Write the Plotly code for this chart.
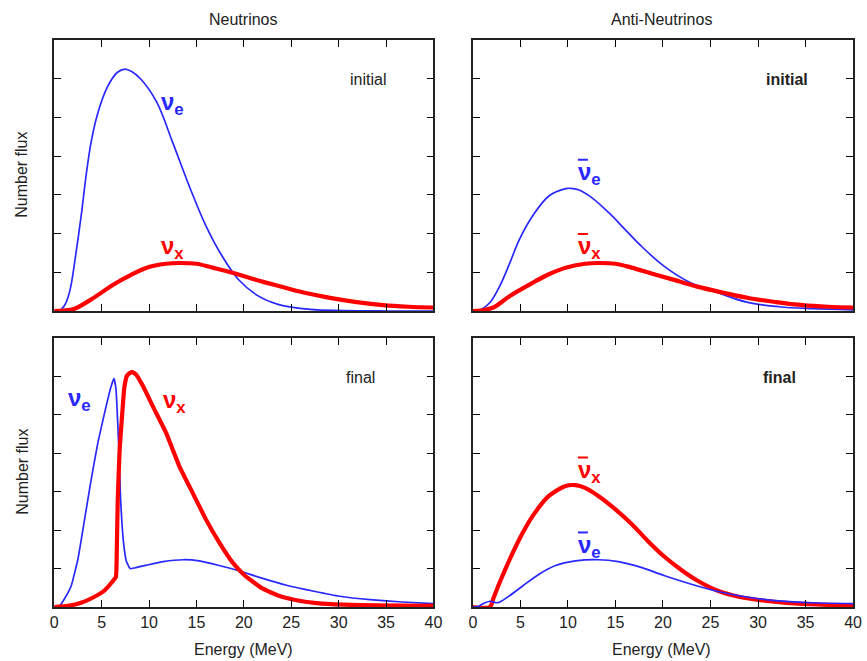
import plotly.graph_objects as go

# ---------------- data ----------------
# Top-left: neutrinos, initial
E_nue_init = [0, 0.5, 0.76, 1.1, 1.45, 1.8, 2.15, 2.84, 3.36, 3.88, 4.57, 5.6, 6.64, 7.45,
              8.2, 9.1, 10.8, 12.5, 14.3, 16.0, 17.7, 19.4, 21.5, 23.6, 27.0, 30.5, 35, 40]
F_nue_init = [0, 0, 0.05, 0.15, 0.35, 0.7, 1.25, 2.46, 3.5, 4.35, 5.09, 5.78, 6.16, 6.25,
              6.18, 6.0, 5.4, 4.35, 3.19, 2.2, 1.42, 0.82, 0.39, 0.17, 0.04, 0.01, 0, 0]

E_nux_init = [0, 1.0, 2.15, 3.9, 6.3, 8.0, 9.76, 11.8, 13.2, 15.0, 16.7, 18.8, 20.8, 23.6,
              26.4, 29.1, 31.9, 34.7, 37.4, 40]
F_nux_init = [0, 0.01, 0.06, 0.3, 0.69, 0.92, 1.12, 1.22, 1.24, 1.22, 1.12, 0.99, 0.84, 0.65,
              0.47, 0.34, 0.23, 0.15, 0.11, 0.09]

# Top-right: anti-neutrinos, initial
E_anue_init = [0, 0.5, 0.76, 1.8, 2.84, 3.9, 4.9, 6.3, 8.0, 9.76, 10.3, 11.1, 12.5, 14.3, 16.0,
               17.7, 20.1, 22.9, 25.7, 28.8, 32.2, 35.7, 40]
F_anue_init = [0, 0, 0.02, 0.22, 0.65, 1.25, 1.85, 2.46, 2.97, 3.16, 3.17, 3.13, 2.93, 2.54, 2.11,
               1.68, 1.16, 0.73, 0.48, 0.23, 0.11, 0.06, 0.03]

E_anux_init = [0, 1.0, 2.15, 3.9, 6.3, 8.0, 9.76, 11.8, 13.2, 15.0, 16.7, 18.8, 20.8, 23.6,
               26.4, 29.1, 31.9, 34.7, 37.4, 40]
F_anux_init = [0, 0.02, 0.09, 0.39, 0.73, 0.95, 1.12, 1.22, 1.24, 1.22, 1.12, 0.97, 0.83, 0.63,
               0.47, 0.33, 0.23, 0.15, 0.11, 0.09]

# Bottom-left: neutrinos, final
E_nue_fin = [0, 0.6, 1.1, 1.8, 2.5, 3.2, 3.9, 4.6, 5.3, 5.95, 6.3, 6.5, 6.8, 7.0, 7.3, 7.6,
             8.0, 8.5, 9.76, 11.5, 13.6, 15.3, 17.4, 19.4, 21.9, 24.6, 27.4, 30.1, 33.3,
             36.7, 40]
F_nue_fin = [0, 0.04, 0.22, 0.56, 1.25, 2.28, 3.32, 4.27, 5.04, 5.7, 5.95, 5.7, 4.2, 2.8,
             1.7, 1.2, 1.0, 1.02, 1.09, 1.18, 1.23, 1.2, 1.08, 0.95, 0.75, 0.56, 0.41,
             0.28, 0.19, 0.13, 0.09]

E_nux_fin = [0, 1.45, 2.84, 4.2, 5.3, 6.1, 6.5, 6.6, 6.7, 6.9, 7.2, 7.4, 7.7, 8.2, 8.7, 9.4,
             10.4, 11.8, 13.2, 14.6, 16.0, 17.4, 18.8, 20.1, 21.9, 23.6, 25.7, 27.7, 30.5, 34,
             40]
F_nux_fin = [0, 0.03, 0.11, 0.26, 0.43, 0.65, 0.78, 1.5, 2.8, 4.1, 5.13, 5.73, 6.03, 6.12, 6.03,
             5.73, 5.22, 4.53, 3.66, 2.97, 2.28, 1.68, 1.16, 0.82, 0.49, 0.3, 0.17, 0.1, 0.06,
             0.04, 0.03]

# Bottom-right: anti-neutrinos, final
E_anux_fin = [0, 1.8, 2.15, 2.84, 3.9, 4.9, 6.3, 8.0, 9.76, 10.8, 11.8, 13.2, 15.0, 16.7, 18.4,
              20.1, 21.9, 23.6, 25.7, 28.1, 30.5, 33.3, 36.7, 40]
F_anux_fin = [0, 0, 0.22, 0.65, 1.25, 1.77, 2.37, 2.89, 3.15, 3.17, 3.1, 2.89, 2.54, 2.16, 1.72,
              1.32, 0.97, 0.69, 0.43, 0.26, 0.17, 0.1, 0.06, 0.04]

E_anue_fin = [0, 0.6, 1.1, 1.8, 2.5, 2.84, 3.9, 5.3, 7.0, 8.7, 10.8, 13.2, 15.3, 17.7, 20.1,
              22.9, 25.7, 28.8, 32.2, 35.7, 40]
F_anue_fin = [0, 0.02, 0.09, 0.15, 0.11, 0.13, 0.3, 0.56, 0.86, 1.08, 1.2, 1.23, 1.18, 1.03,
              0.82, 0.6, 0.41, 0.26, 0.16, 0.11, 0.09]

x_ticks = [0, 5, 10, 15, 20, 25, 30, 35, 40]
col_titles = ["Neutrinos", "Anti-Neutrinos"]

# ---------------- styling ----------------
BLUE = "rgb(40,40,255)"
RED = "rgb(255,0,0)"
FONT = "Liberation Sans, Arial, Helvetica, sans-serif"
TXT = "#222"

fig = go.Figure()

panels = [
    ("x", "y", [(E_nue_init, F_nue_init, BLUE, 1.7, 1.0), (E_nux_init, F_nux_init, RED, 4.2, 1.0)]),
    ("x2", "y2", [(E_anue_init, F_anue_init, BLUE, 1.7, 1.0), (E_anux_init, F_anux_init, RED, 4.2, 1.0)]),
    ("x3", "y3", [(E_nue_fin, F_nue_fin, BLUE, 1.7, 0.4), (E_nux_fin, F_nux_fin, RED, 4.2, 0.4)]),
    ("x4", "y4", [(E_anux_fin, F_anux_fin, RED, 4.2, 0.8), (E_anue_fin, F_anue_fin, BLUE, 1.7, 0.8)]),
]
for xa, ya, series in panels:
    for xs, ys, c, w, sm in series:
        fig.add_trace(go.Scatter(x=xs, y=ys, mode="lines", xaxis=xa, yaxis=ya,
                                 line=dict(color=c, width=w, shape="spline", smoothing=sm),
                                 showlegend=False, hoverinfo="skip"))

xdom_l = [51 / 867, 436 / 867]
xdom_r = [476 / 867, 862 / 867]
ydom_t = [350 / 661, 621 / 661]
ydom_b = [54 / 661, 323 / 661]

def xaxis(dom, anchor, labels):
    return dict(domain=dom, anchor=anchor, range=[0, 40], tickvals=x_ticks,
                showticklabels=labels, ticks="inside", ticklen=7, tickwidth=1.3,
                tickcolor="black", showline=True, linecolor="#222", linewidth=1.5,
                mirror="ticks", showgrid=False, zeroline=False,
                tickfont=dict(family=FONT, size=16, color=TXT))

def yaxis(dom, anchor):
    return dict(domain=dom, anchor=anchor, range=[0, 7], dtick=1,
                showticklabels=False, ticks="inside", ticklen=7, tickwidth=1.3,
                tickcolor="black", showline=True, linecolor="#222", linewidth=1.5,
                mirror="ticks", showgrid=False, zeroline=False)

fig.update_layout(
    width=867, height=661, margin=dict(l=0, r=0, t=0, b=0),
    paper_bgcolor="white", plot_bgcolor="white",
    xaxis=xaxis(xdom_l, "y", False), yaxis=yaxis(ydom_t, "x"),
    xaxis2=xaxis(xdom_r, "y2", False), yaxis2=yaxis(ydom_t, "x2"),
    xaxis3=xaxis(xdom_l, "y3", True), yaxis3=yaxis(ydom_b, "x3"),
    xaxis4=xaxis(xdom_r, "y4", True), yaxis4=yaxis(ydom_b, "x4"),
    font=dict(family=FONT, color=TXT),
)

ann = []
shapes = []
def nu_label(xr, yr, x, y, sub, color, bar=False):
    ann.append(dict(xref=xr, yref=yr, x=x, y=y,
                    text="<b>\u03bd<sub>" + sub + "</sub></b>", showarrow=False,
                    font=dict(family=FONT, size=24, color=color),
                    xanchor="left", yanchor="middle"))
    if bar:
        # overbar of the anti-neutrino symbol, placed relative to the label
        shapes.append(dict(type="line", xref=xr, yref=yr,
                           x0=x + 0.25, x1=x + 1.3, y0=y + 0.36, y1=y + 0.36,
                           line=dict(color=color, width=2)))

def word(xr, yr, x, y, text):
    ann.append(dict(xref=xr, yref=yr, x=x, y=y, text=text, showarrow=False,
                    font=dict(family=FONT, size=16, color=TXT),
                    xanchor="center", yanchor="middle"))

nu_label("x", "y", 11.0, 5.35, "e", BLUE)
nu_label("x", "y", 11.0, 1.65, "x", RED)
word("x", "y", 33.1, 5.97, "initial")
nu_label("x2", "y2", 10.8, 3.55, "e", BLUE, bar=True)
nu_label("x2", "y2", 10.8, 1.63, "x", RED, bar=True)
word("x2", "y2", 33.1, 5.97, "<b>initial</b>")
nu_label("x3", "y3", 1.25, 5.4, "e", BLUE)
nu_label("x3", "y3", 11.3, 5.35, "x", RED)
word("x3", "y3", 32.3, 5.97, "final")
nu_label("x4", "y4", 10.8, 3.53, "x", RED, bar=True)
nu_label("x4", "y4", 10.8, 1.58, "e", BLUE, bar=True)
word("x4", "y4", 32.3, 5.97, "<b>final</b>")

# column titles
for t, cx in zip(col_titles, [243 / 867, 668 / 867]):
    ann.append(dict(xref="paper", yref="paper", x=cx, y=1 - 20 / 661, text=t, showarrow=False,
                    font=dict(family=FONT, size=16, color=TXT),
                    xanchor="center", yanchor="middle"))
# y labels
for cy in [1 - 175 / 661, 1 - 472 / 661]:
    ann.append(dict(xref="paper", yref="paper", x=18 / 867, y=cy, text="Number flux",
                    showarrow=False, textangle=-90,
                    font=dict(family=FONT, size=16, color=TXT),
                    xanchor="center", yanchor="middle"))
# x labels
for cx in [243 / 867, 668 / 867]:
    ann.append(dict(xref="paper", yref="paper", x=cx, y=1 - 649 / 661, text="Energy (MeV)",
                    showarrow=False, font=dict(family=FONT, size=16, color=TXT),
                    xanchor="center", yanchor="middle"))

fig.update_layout(annotations=ann, shapes=shapes)
fig.write_html("out.html")
